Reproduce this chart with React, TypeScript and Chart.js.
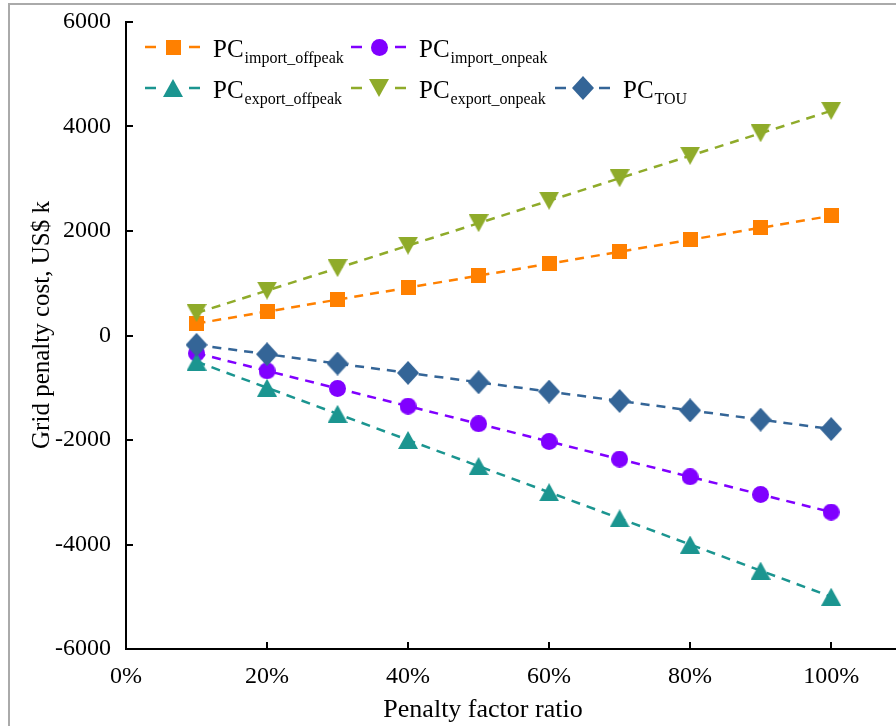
import React, { useEffect, useRef } from 'react';
import { Chart, registerables } from 'chart.js';

Chart.register(...registerables);

// ---- data ----
const penaltyRatios = [10, 20, 30, 40, 50, 60, 70, 80, 90, 100];
const pcImportOffpeak = [229, 458, 687, 916, 1145, 1374, 1603, 1832, 2061, 2290];
const pcImportOnpeak = [-338, -676, -1014, -1352, -1690, -2028, -2366, -2704, -3042, -3380];
const pcExportOffpeak = [-500, -1000, -1500, -2000, -2500, -3000, -3500, -4000, -4500, -5000];
const pcExportOnpeak = [430, 860, 1290, 1720, 2150, 2580, 3010, 3440, 3870, 4300];
const pcTou = [-179, -358, -537, -716, -895, -1074, -1253, -1432, -1611, -1790];

const xTickValues = [0, 20, 40, 60, 80, 100];
const yTickValues = [-6000, -4000, -2000, 0, 2000, 4000, 6000];

const xTitle = 'Penalty factor ratio';
const yTitle = 'Grid penalty cost, US$ k';

const FONT = '"Liberation Serif", "Times New Roman", serif';

type Shape = 'square' | 'circle' | 'triUp' | 'triDown' | 'diamond';
interface SeriesDef {
  base: string;
  sub: string;
  color: string;
  shape: Shape;
  values: number[];
}

const series: SeriesDef[] = [
  { base: 'PC', sub: 'import_offpeak', color: '#FF8000', shape: 'square', values: pcImportOffpeak },
  { base: 'PC', sub: 'import_onpeak', color: '#8000FF', shape: 'circle', values: pcImportOnpeak },
  { base: 'PC', sub: 'export_offpeak', color: '#1B9590', shape: 'triUp', values: pcExportOffpeak },
  { base: 'PC', sub: 'export_onpeak', color: '#8FAB2A', shape: 'triDown', values: pcExportOnpeak },
  { base: 'PC', sub: 'TOU', color: '#346597', shape: 'diamond', values: pcTou },
];

// legend grid: [series index, column, row]
const legendLayout: [number, number, number][] = [
  [0, 0, 0],
  [1, 1, 0],
  [2, 0, 1],
  [3, 1, 1],
  [4, 2, 1],
];

function makeMarker(shape: Shape, color: string): HTMLCanvasElement {
  const c = document.createElement('canvas');
  let w = 16, h = 16;
  if (shape === 'square') { w = 15; h = 15; }
  if (shape === 'circle') { w = 17; h = 17; }
  if (shape === 'triUp' || shape === 'triDown') { w = 20; h = 18; }
  if (shape === 'diamond') { w = 22; h = 24; }
  c.width = w;
  c.height = h;
  const ctx = c.getContext('2d')!;
  ctx.fillStyle = color;
  ctx.beginPath();
  if (shape === 'square') {
    ctx.rect(0, 0, w, h);
  } else if (shape === 'circle') {
    ctx.ellipse(w / 2, h / 2, w / 2, h / 2, 0, 0, Math.PI * 2);
  } else if (shape === 'triUp') {
    ctx.moveTo(w / 2, 0);
    ctx.lineTo(w, h);
    ctx.lineTo(0, h);
    ctx.closePath();
  } else if (shape === 'triDown') {
    ctx.moveTo(0, 0);
    ctx.lineTo(w, 0);
    ctx.lineTo(w / 2, h);
    ctx.closePath();
  } else {
    ctx.moveTo(w / 2, 0);
    ctx.lineTo(w, h / 2);
    ctx.lineTo(w / 2, h);
    ctx.lineTo(0, h / 2);
    ctx.closePath();
  }
  ctx.fill();
  return c;
}

const zeroPadding = (s: any) => {
  s.paddingTop = 0;
  s.paddingBottom = 0;
  s.paddingLeft = 0;
  s.paddingRight = 0;
};

export default function App() {
  const canvasRef = useRef<HTMLCanvasElement | null>(null);

  useEffect(() => {
    if (!canvasRef.current) return;
    const markers = series.map((s) => makeMarker(s.shape, s.color));

    const decorPlugin = {
      id: 'decor',
      afterLayout(chart: any) {
        // let the plot area run to the right edge of the canvas, as in the reference
        const ca = chart.chartArea;
        const x = chart.scales.x;
        const target = chart.width;
        ca.right = target;
        ca.width = target - ca.left;
        x.right = target;
        x.width = target - x.left;
        x.configure();
      },
      beforeDatasetsDraw(chart: any) {
        const ctx = chart.ctx;
        const { left, bottom } = chart.chartArea;
        const xs = chart.scales.x;
        const ys = chart.scales.y;
        ctx.save();
        ctx.strokeStyle = '#000';
        ctx.lineWidth = 2;
        ctx.beginPath();
        yTickValues.forEach((v) => {
          if (v === yTickValues[0]) return;
          const py = Math.round(ys.getPixelForValue(v));
          ctx.moveTo(left, py);
          ctx.lineTo(left + 7, py);
        });
        xTickValues.forEach((v) => {
          if (v === xTickValues[0]) return;
          const px = Math.round(xs.getPixelForValue(v));
          ctx.moveTo(px, bottom);
          ctx.lineTo(px, bottom - 7);
        });
        ctx.stroke();
        ctx.restore();
      },
      afterDraw(chart: any) {
        const ctx = chart.ctx;
        ctx.save();
        // axis titles
        ctx.fillStyle = '#000';
        ctx.textAlign = 'center';
        ctx.textBaseline = 'middle';
        ctx.font = `26px ${FONT}`;
        ctx.fillText(xTitle, 483, 710);
        ctx.save();
        ctx.translate(42, 325);
        ctx.rotate(-Math.PI / 2);
        ctx.font = `25px ${FONT}`;
        ctx.fillText(yTitle, 0, 0);
        ctx.restore();

        // legend
        const colX = [145, 351, 555];
        const rowY = [47, 88];
        ctx.textAlign = 'left';
        ctx.textBaseline = 'alphabetic';
        legendLayout.forEach(([si, col, row]) => {
          const s = series[si];
          const x0 = colX[col];
          const y0 = rowY[row];
          ctx.strokeStyle = s.color;
          ctx.lineWidth = 2.5;
          ctx.setLineDash([]);
          ctx.beginPath();
          ctx.moveTo(x0, y0);
          ctx.lineTo(x0 + 11, y0);
          ctx.moveTo(x0 + 44, y0);
          ctx.lineTo(x0 + 55, y0);
          ctx.stroke();
          const m = markers[si];
          ctx.drawImage(m, Math.round(x0 + 28 - m.width / 2), Math.round(y0 - m.height / 2));
          ctx.fillStyle = '#000';
          ctx.font = `25px ${FONT}`;
          const tx = x0 + 68;
          ctx.fillText(s.base, tx, y0 + 10);
          const bw = ctx.measureText(s.base).width;
          ctx.font = `16px ${FONT}`;
          ctx.fillText(s.sub, tx + bw + 1, y0 + 16);
        });
        ctx.restore();
      },
    };

    const chart = new Chart(canvasRef.current, {
      type: 'line',
      data: {
        datasets: series.map((s, i) => ({
          label: s.base + s.sub,
          data: penaltyRatios.map((r, k) => ({ x: r, y: s.values[k] })),
          borderColor: s.color,
          backgroundColor: s.color,
          borderWidth: 2.5,
          borderDash: [9, 7],
          pointStyle: markers[i] as any,
          pointRadius: 10,
          pointHoverRadius: 10,
          fill: false,
          tension: 0,
          order: 10 - i,
        })),
      },
      options: {
        animation: false,
        responsive: true,
        maintainAspectRatio: false,
        layout: { padding: { top: 22, left: 0, right: 0, bottom: 0 } },
        plugins: {
          legend: { display: false },
          tooltip: { enabled: false },
        },
        scales: {
          x: {
            type: 'linear',
            min: 0,
            max: 109.2,
            afterBuildTicks: (s: any) => {
              s.ticks = xTickValues.map((v) => ({ value: v }));
            },
            afterFit: (s: any) => {
              s.height = 77;
              zeroPadding(s);
            },
            ticks: {
              callback: (v: any) => `${v}%`,
              font: { family: FONT, size: 24 },
              color: '#000',
              padding: 13,
              maxRotation: 0,
              autoSkip: false,
            },
            grid: { display: false, drawTicks: false },
            border: { display: true, color: '#000', width: 2 },
          },
          y: {
            type: 'linear',
            min: -6000,
            max: 6000,
            afterBuildTicks: (s: any) => {
              s.ticks = yTickValues.map((v) => ({ value: v }));
            },
            afterFit: (s: any) => {
              s.width = 126;
              zeroPadding(s);
            },
            ticks: {
              callback: (v: any) => String(v),
              font: { family: FONT, size: 24 },
              color: '#000',
              padding: 15,
              autoSkip: false,
            },
            grid: { display: false, drawTicks: false },
            border: { display: true, color: '#000', width: 2 },
          },
        },
      },
      plugins: [decorPlugin],
    } as any);

    return () => chart.destroy();
  }, []);

  return (
    <div
      style={{
        position: 'fixed',
        left: 0,
        top: 0,
        width: 896,
        height: 726,
        background: '#fff',
        overflow: 'hidden',
      }}
    >
      <div
        style={{
          position: 'absolute',
          left: 8,
          top: 3,
          right: 0,
          bottom: 0,
          borderLeft: '2px solid #aaaaaa',
          borderTop: '2px solid #aaaaaa',
        }}
      />
      <div style={{ position: 'absolute', left: 0, top: 0, width: 896, height: 726 }}>
        <canvas ref={canvasRef} />
      </div>
    </div>
  );
}
